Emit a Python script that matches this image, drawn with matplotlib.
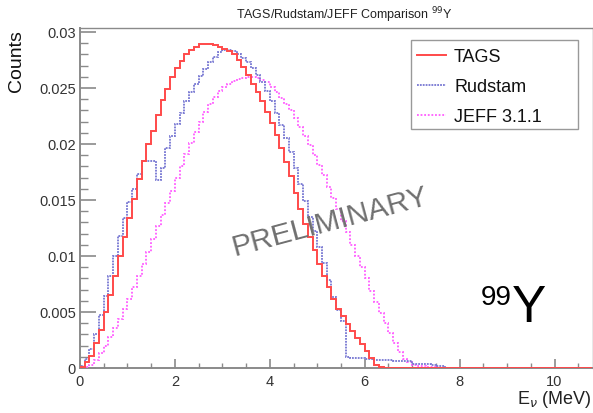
import numpy as np
import matplotlib
matplotlib.use("Agg")
import matplotlib.pyplot as plt
from matplotlib.ticker import MultipleLocator, FixedLocator
from matplotlib.patches import Rectangle

plt.rcParams['font.family'] = ['Liberation Sans', 'DejaVu Sans']

# ---- data: 0.1 MeV bins from 0 to 10.8 MeV ----
bin_width = 0.1

tags = [
    0.0001, 0.0005, 0.0011, 0.0022, 0.0034, 0.0050, 0.0065, 0.0082, 0.0100, 0.0117,
    0.0134, 0.0151, 0.0169, 0.0185, 0.0200, 0.0212, 0.0226, 0.0239, 0.0249, 0.0260,
    0.0268, 0.0274, 0.0280, 0.0284, 0.0287, 0.0289, 0.0289, 0.0289, 0.0288, 0.0287,
    0.0285, 0.0283, 0.0280, 0.0275, 0.0269, 0.0262, 0.0254, 0.0246, 0.0238, 0.0229,
    0.0219, 0.0208, 0.0196, 0.0184, 0.0171, 0.0156, 0.0142, 0.0129, 0.0117, 0.0105,
    0.0093, 0.0082, 0.0072, 0.0062, 0.0053, 0.0046, 0.0039, 0.0033, 0.0027, 0.0021,
    0.0015, 0.0009, 0.0003, 0.0001, 0.0, 0.0, 0.0, 0.0, 0.0, 0.0,
    0.0, 0.0, 0.0, 0.0, 0.0, 0.0, 0.0, 0.0, 0.0, 0.0,
    0.0, 0.0, 0.0, 0.0, 0.0, 0.0, 0.0, 0.0, 0.0, 0.0,
    0.0, 0.0, 0.0, 0.0, 0.0, 0.0, 0.0, 0.0, 0.0, 0.0,
    0.0, 0.0, 0.0, 0.0, 0.0, 0.0, 0.0, 0.0,
]

rudstam = [
    0.0002, 0.0008, 0.0017, 0.0030, 0.0047, 0.0064, 0.0082, 0.0100, 0.0118, 0.0134,
    0.0148, 0.0160, 0.0173, 0.0185, 0.0185, 0.0185, 0.0168, 0.0179, 0.0196, 0.0207,
    0.0218, 0.0228, 0.0238, 0.0246, 0.0254, 0.0261, 0.0267, 0.0273, 0.0278, 0.0282,
    0.0284, 0.0284, 0.0283, 0.0280, 0.0277, 0.0273, 0.0268, 0.0262, 0.0255, 0.0247,
    0.0238, 0.0228, 0.0217, 0.0205, 0.0193, 0.0179, 0.0164, 0.0149, 0.0135, 0.0122,
    0.0108, 0.0094, 0.0079, 0.0063, 0.0052, 0.0042, 0.0010, 0.0009, 0.0009, 0.0009,
    0.0008, 0.0008, 0.0007, 0.0007, 0.0007, 0.0007, 0.0006, 0.0006, 0.0006, 0.0006,
    0.0004, 0.0004, 0.0004, 0.0004, 0.0003, 0.0002, 0.0002, 0.0, 0.0, 0.0,
    0.0, 0.0, 0.0, 0.0, 0.0, 0.0, 0.0, 0.0, 0.0, 0.0,
    0.0, 0.0, 0.0, 0.0, 0.0, 0.0, 0.0, 0.0, 0.0, 0.0,
    0.0, 0.0, 0.0, 0.0, 0.0, 0.0, 0.0, 0.0,
]

jeff = [
    0.0, 0.0001, 0.0003, 0.0007, 0.0013, 0.0020, 0.0028, 0.0036, 0.0044, 0.0053,
    0.0062, 0.0072, 0.0082, 0.0093, 0.0104, 0.0115, 0.0127, 0.0137, 0.0147, 0.0158,
    0.0170, 0.0180, 0.0191, 0.0201, 0.0211, 0.0220, 0.0229, 0.0236, 0.0242, 0.0247,
    0.0251, 0.0254, 0.0256, 0.0258, 0.0259, 0.0260, 0.0260, 0.0259, 0.0257, 0.0255,
    0.0251, 0.0246, 0.0241, 0.0236, 0.0230, 0.0223, 0.0215, 0.0207, 0.0199, 0.0190,
    0.0181, 0.0172, 0.0162, 0.0152, 0.0142, 0.0131, 0.0121, 0.0110, 0.0100, 0.0090,
    0.0080, 0.0069, 0.0059, 0.0049, 0.0040, 0.0031, 0.0022, 0.0014, 0.0008, 0.0005,
    0.0003, 0.0002, 0.0002, 0.0001, 0.0001, 0.00002, 0.00002, 0.00002, 0.00002, 0.00002,
    0.00002, 0.00002, 0.00002, 0.00002, 0.00002, 0.00002, 0.00002, 0.00002, 0.00002, 0.00002,
    0.00002, 0.00002, 0.00002, 0.00002, 0.00002, 0.00002, 0.00002, 0.00002, 0.00002, 0.00002,
    0.00002, 0.00002, 0.00002, 0.00002, 0.00002, 0.00002, 0.00002, 0.00002,
]

series_labels = ["TAGS", "Rudstam", "JEFF 3.1.1"]
y_ticks = [0, 0.005, 0.01, 0.015, 0.02, 0.025, 0.03]
y_tick_labels = ["0", "0.005", "0.01", "0.015", "0.02", "0.025", "0.03"]
x_ticks = [0, 2, 4, 6, 8, 10]
x_tick_labels = ["0", "2", "4", "6", "8", "10"]

edges = np.arange(len(tags) + 1) * bin_width

# ---- figure ----
W, H = 593, 414
fig = plt.figure(figsize=(W / 100, H / 100), dpi=100)
ax = fig.add_axes([80 / W, 1 - 369 / H, (592.5 - 80) / W, (369 - 29.3) / H])

frame_col = "#8a8a8a"
red = "#ff4a4a"
blue = "#7676d2"
mag = "#ff5cff"

h_jeff = ax.stairs(jeff, edges, color=mag, lw=1.3, linestyle=(0, (1.0, 1.0)), zorder=3)
h_rud = ax.stairs(rudstam, edges, color=blue, lw=1.3, linestyle=(0, (1.0, 0.6)), zorder=4)
h_tags = ax.stairs(tags, edges, color=red, lw=1.4, zorder=5)

ax.set_xlim(0, (592.5 - 80) / 47.45)
ax.set_ylim(0, (369 - 29.3) / 11200)

for s in ax.spines.values():
    s.set_color(frame_col)
    s.set_linewidth(1.0)
ax.spines['left'].set_linewidth(1.4)
ax.spines['bottom'].set_linewidth(1.4)

ax.yaxis.set_major_locator(FixedLocator(y_ticks))
ax.set_yticklabels(y_tick_labels)
ax.yaxis.set_minor_locator(MultipleLocator(0.001))
ax.xaxis.set_major_locator(FixedLocator(x_ticks))
ax.set_xticklabels(x_tick_labels)
ax.xaxis.set_minor_locator(MultipleLocator(0.5))

ax.tick_params(axis='y', which='major', direction='in', length=11.5, width=1.2,
               color=frame_col, labelsize=10.5, labelcolor="#333333", pad=3)
ax.tick_params(axis='y', which='minor', direction='in', length=6, width=1.0, color=frame_col)
ax.tick_params(axis='x', which='major', direction='in', length=6.5, width=1.2,
               color=frame_col, labelsize=10.5, labelcolor="#333333", pad=4)
ax.tick_params(axis='x', which='minor', direction='in', length=3.6, width=1.0, color=frame_col)

# axis titles (ROOT style, aligned to ends)
fig.text(8 / W, 1 - 30 / H, "Counts", rotation=90, ha='left', va='top',
         fontsize=14, color="#111111")
fig.text(592 / W, 1 - 410 / H, r"E$_{\nu}$ (MeV)", ha='right', va='bottom',
         fontsize=13, color="#222222")

# title
fig.text(344 / W, 1 - 15 / H, r"TAGS/Rudstam/JEFF Comparison $^{99}$Y",
         ha='center', va='center', fontsize=9.0, color="#222222")

# legend (frame drawn separately, ROOT-style fixed box)
fig.patches.append(Rectangle((411 / W, 1 - 130 / H), (578 - 411) / W, (130 - 41) / H,
                             transform=fig.transFigure, fill=True, facecolor='white',
                             edgecolor="#999999", lw=1.0, zorder=1))
leg = fig.legend([h_tags, h_rud, h_jeff], series_labels, loc='upper left',
                 bbox_to_anchor=(417 / W, 1 - 49 / H), bbox_transform=fig.transFigure,
                 frameon=False, fontsize=13, handlelength=1.6,
                 handletextpad=0.45, borderpad=0.0, labelspacing=0.72, borderaxespad=0)
leg.set_zorder(6)
for t in leg.get_texts():
    t.set_color("#111111")

# PRELIMINARY watermark
fig.text(330 / W, 1 - 222 / H, "PRELIMINARY", rotation=15, ha='center', va='center',
         fontsize=21.5, color="#707070", rotation_mode='anchor')

# isotope label
fig.text(512 / W, 1 - 285 / H, "99", ha='right', va='top', fontsize=20, color="black")
fig.text(512 / W, 1 - 322 / H, "Y", ha='left', va='baseline', fontsize=37, color="black")

fig.savefig("out.png", dpi=100)
